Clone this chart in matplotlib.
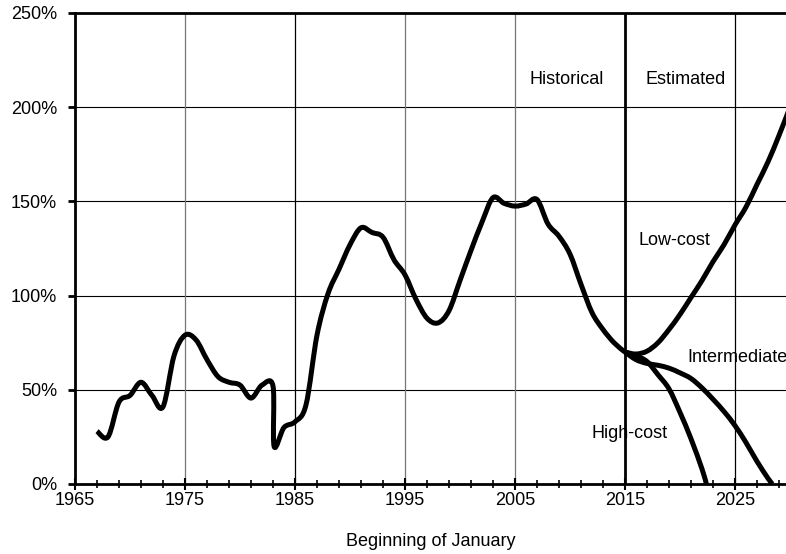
import matplotlib.pyplot as plt
import matplotlib.patches as mpatches
from matplotlib.path import Path
from matplotlib.ticker import FixedLocator, FuncFormatter

plt.rcParams['font.family'] = ['Liberation Sans', 'DejaVu Sans']

# historical trust fund ratio (%), beginning of January
hist_years = [1967, 1968, 1969, 1970, 1971, 1972, 1973, 1974, 1975, 1976,
              1977, 1978, 1979, 1980, 1981, 1982, 1983, 1983.1, 1984, 1985,
              1986, 1987, 1988, 1989, 1990, 1991, 1992, 1993, 1994, 1995,
              1996, 1997, 1998, 1999, 2000, 2001, 2002, 2003, 2004, 2005,
              2006, 2007, 2008, 2009, 2010, 2011, 2012, 2013, 2014, 2015]
hist_vals = [28, 25, 43.5, 47, 54, 47, 41, 68, 79, 76.5,
             66, 57, 54, 52.5, 45.6, 52.5, 52, 20, 30, 33,
             42, 79, 101, 114, 127, 136, 133.5, 131, 119, 111,
             98, 88, 85.5, 92, 108, 124, 139, 152, 149, 147.5,
             148.6, 151, 138, 131.5, 122, 106, 91, 82, 75, 70]

low_years = [2015, 2016, 2017, 2018, 2019, 2020, 2021, 2022, 2023, 2024,
             2025, 2026, 2027, 2028, 2029, 2030]
low_vals = [70, 69, 70.5, 75, 82, 90, 99, 108, 118, 127,
            137.5, 147, 159, 171, 185, 200]

int_years = [2015, 2016, 2017, 2018, 2019, 2020, 2021, 2022, 2023, 2024,
             2025, 2026, 2027, 2028, 2028.4]
int_vals = [70, 66, 64, 63, 61.5, 59, 56, 51, 45, 38.5,
            31, 22, 12, 3, 0]

high_years = [2015, 2016, 2017, 2018, 2019, 2020, 2021, 2022, 2022.4]
high_vals = [70, 68, 65, 58, 50.5, 38, 24, 8, 0]

major_years = [1965, 1975, 1985, 1995, 2005, 2015, 2025]
minor_years = list(range(1967, 2031, 2))
pct_ticks = [0, 50, 100, 150, 200, 250]


def smooth_path(xs, ys, t=1/6):
    # Excel-style smoothed line: bezier segments through the data points
    verts = [(xs[0], ys[0])]
    codes = [Path.MOVETO]
    n = len(xs)
    for i in range(n - 1):
        x0, y0 = (xs[i - 1], ys[i - 1]) if i > 0 else (xs[i], ys[i])
        x1, y1 = xs[i], ys[i]
        x2, y2 = xs[i + 1], ys[i + 1]
        x3, y3 = (xs[i + 2], ys[i + 2]) if i + 2 < n else (x2, y2)
        c1 = (x1 + (x2 - x0) * t, y1 + (y2 - y0) * t)
        c2 = (x2 - (x3 - x1) * t, y2 - (y3 - y1) * t)
        verts += [c1, c2, (x2, y2)]
        codes += [Path.CURVE4] * 3
    return Path(verts, codes)


fig = plt.figure(figsize=(7.86, 5.54), dpi=100)
ax = fig.add_axes([75/786, 1 - 484/554, 711/786, 471/554])

ax.set_xlim(1965, 1965 + 711/11)
ax.set_ylim(0, 250)

# grid
for y in pct_ticks[1:-1]:
    ax.axhline(y, color='black', lw=0.8, zorder=1)
for x, c in zip([1975, 1985, 1995, 2005, 2025], ['#777777', 'black', '#777777', '#777777', 'black']):
    ax.axvline(x, color=c, lw=0.9, zorder=1)
ax.axvline(2015, color='black', lw=2, zorder=2)

for xs, ys in [(hist_years, hist_vals), (low_years, low_vals),
               (int_years, int_vals), (high_years, high_vals)]:
    patch = mpatches.PathPatch(smooth_path(xs, ys), facecolor='none', edgecolor='black',
                               lw=3.6, joinstyle='round', capstyle='butt', zorder=3)
    ax.add_patch(patch)

fs = 13
ax.text(2009.7, 214.5, 'Historical', ha='center', va='center', fontsize=fs)
ax.text(2020.5, 214.5, 'Estimated', ha='center', va='center', fontsize=fs)
ax.text(2019.5, 129.5, 'Low-cost', ha='center', va='center', fontsize=fs)
ax.text(2020.7, 67.4, 'Intermediate', ha='left', va='center', fontsize=fs)
ax.text(2012.0, 27, 'High-cost', ha='left', va='center', fontsize=fs)

ax.xaxis.set_major_locator(FixedLocator(major_years))
ax.xaxis.set_minor_locator(FixedLocator(minor_years))
ax.yaxis.set_major_locator(FixedLocator(pct_ticks))
ax.yaxis.set_major_formatter(FuncFormatter(lambda v, p: f'{int(v)}%'))

ax.tick_params(axis='x', which='major', direction='inout', length=8, width=1.5, labelsize=fs, pad=2)
ax.tick_params(axis='x', which='minor', direction='inout', length=6, width=1.2)
ax.tick_params(axis='y', direction='out', length=5, width=2, labelsize=fs, pad=8)

ax.spines['right'].set_visible(False)
for s in ['left', 'bottom', 'top']:
    ax.spines[s].set_linewidth(2)

ax.set_xlabel('Beginning of January', fontsize=fs, labelpad=17)

fig.savefig('out.png', dpi=100)
